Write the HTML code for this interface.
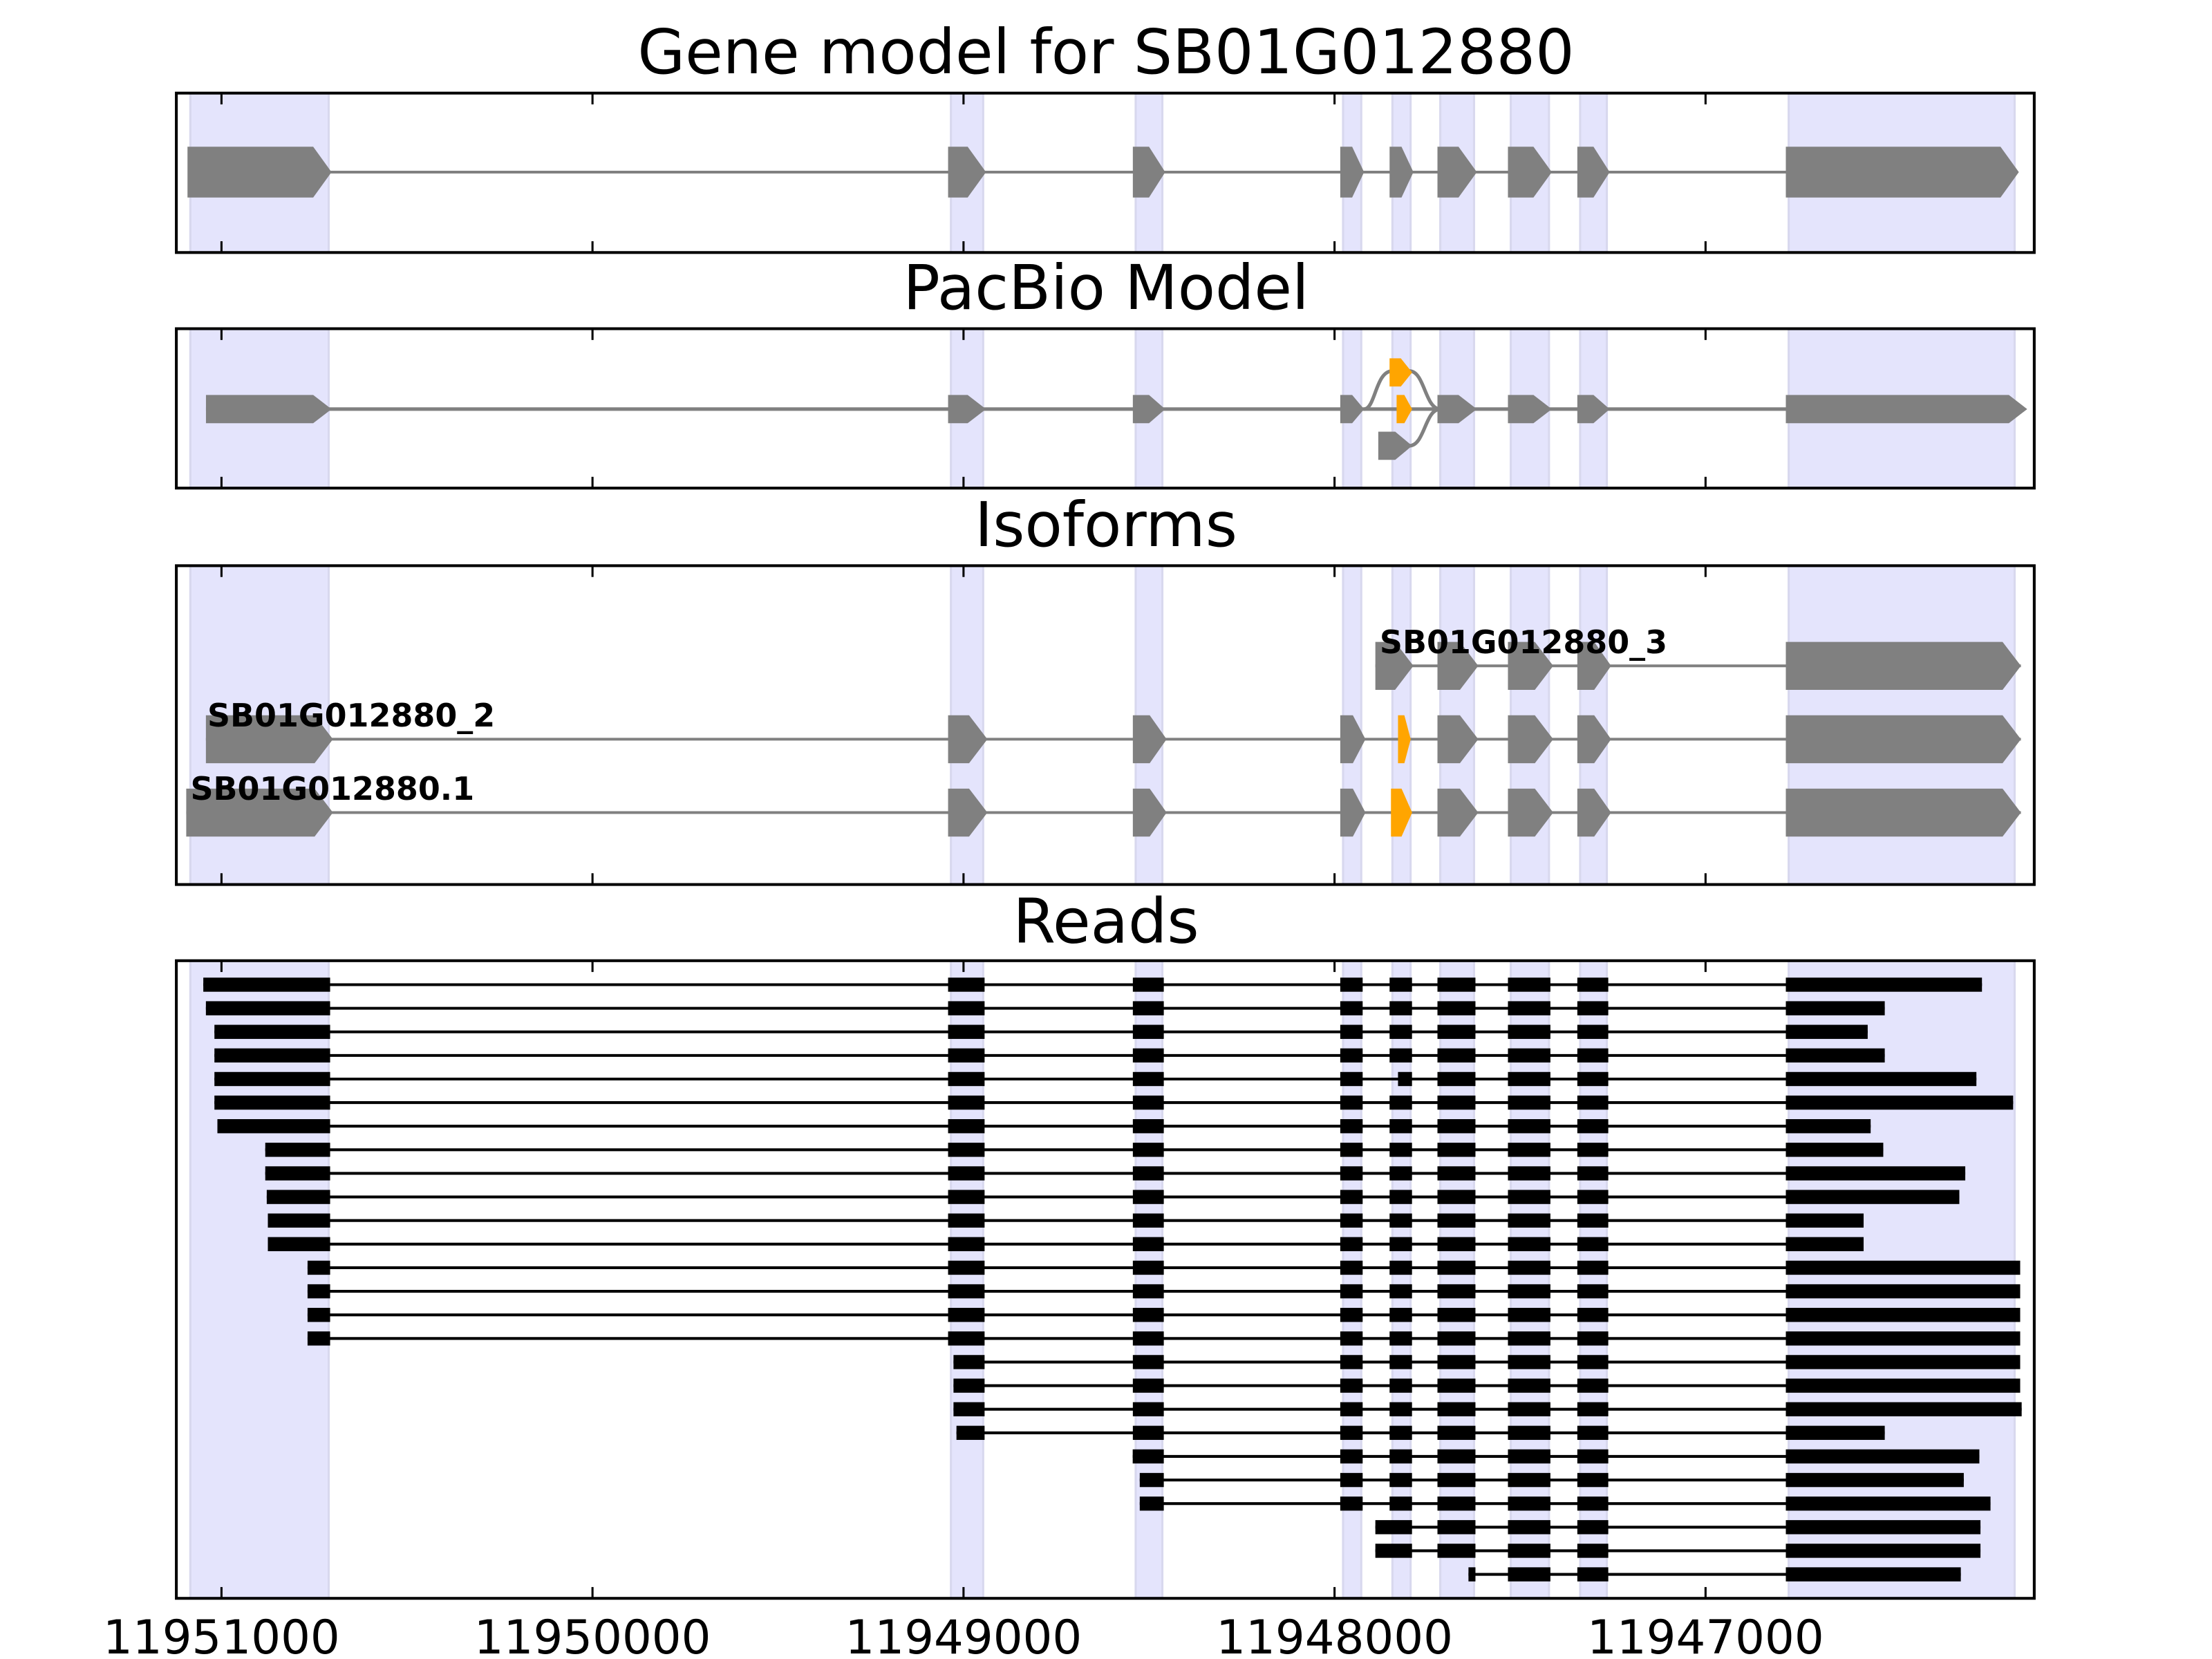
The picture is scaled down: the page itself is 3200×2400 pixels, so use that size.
<!DOCTYPE html>
<html><head><meta charset="utf-8">
<style>html,body{margin:0;padding:0;background:#fff}svg{display:block}</style></head>
<body>
<svg id="chart" xmlns="http://www.w3.org/2000/svg" width="3200" height="2400" viewBox="0 0 1568 1176" font-family="'DejaVu Sans','Liberation Sans',sans-serif"></svg>
<script>
// ---- data ----
const tickValues = [11951000, 11950000, 11949000, 11948000, 11947000];
const tickLabels = ["11951000", "11950000", "11949000", "11948000", "11947000"];
const exonStarts = [11951084, 11949034, 11948536, 11947977, 11947844, 11947715, 11947525, 11947338, 11946776];
const exonEnds   = [11950711, 11948947, 11948464, 11947928, 11947795, 11947624, 11947422, 11947266, 11946167];
const readStarts = [11951049,11951042,11951019,11951019,11951019,11951019,11951011,11950882,11950882,11950878,11950875,11950875,11950768,11950768,11950768,11950768,11949027,11949027,11949027,11949019,11948544,11948525,11948525,11947890,11947890,11947639];
const readEnds   = [11946255,11946517,11946563,11946517,11946270,11946171,11946555,11946521,11946300,11946316,11946574,11946574,11946152,11946152,11946152,11946152,11946152,11946152,11946148,11946517,11946262,11946304,11946232,11946259,11946259,11946312];
const panelTitles = ["Gene model for SB01G012880", "PacBio Model", "Isoforms", "Reads"];
const isoLabels = ["SB01G012880_3", "SB01G012880_2", "SB01G012880.1"];
const isoStarts = [11947890, 11951042, 11951095];
const isoEnds = [11946150, 11946150, 11946150];

// ---- helpers ----
const svg = document.getElementById('chart');
const NS = 'http://www.w3.org/2000/svg';
const X0 = 125, X1 = 1442;
function xs(p){ return 157 + (11951000 - p) * 0.263; }
function mk(tag, attrs, parent){ const e = document.createElementNS(NS, tag); for (const k in attrs) e.setAttribute(k, attrs[k]); (parent||svg).appendChild(e); return e; }
const panels = [[66,179],[233,346],[401,627],[681,1133]];
const titleY = [52,219,387,668];

function exonShape(x1, x2, yc, h, color, parent){
  let tip = Math.min(13, (x2 - x1) * 0.5);
  const pts = [[x1,yc-h/2],[x2-tip,yc-h/2],[x2,yc],[x2-tip,yc+h/2],[x1,yc+h/2]].map(p=>p.join(',')).join(' ');
  const e = mk('polygon', {points: pts, fill: color}, parent);
  
  
  return e;
}
// start x of block for exon k given read start s (read may start inside preceding intron)
function blockStart(k, s){
  const es = xs(exonStarts[k]) - 2;
  if (k > 0 && s < es && s > xs(exonEnds[k-1]) + 1) return s;
  return Math.max(es, s);
}

panels.forEach((pn, i) => {
  const g = mk('g', {});
  
  
  for (let k = 0; k < exonStarts.length; k++) {
    const a = xs(exonStarts[k]), b = xs(exonEnds[k]);
    const r = mk('rect', {x: a, y: pn[0], width: b - a, height: pn[1] - pn[0], fill: '#e4e4fc', stroke: '#d8d8ee', 'stroke-width': 1.5}, g);
    
    
  }
  const t = mk('text', {x: 784, y: titleY[i], 'text-anchor': 'middle', 'font-size': 43.5, fill: '#000'}, svg);
  t.textContent = panelTitles[i];
  
  
  pn.g = g;
});

// panel 1: gene model
(function(){
  const g = panels[0].g, yc = 122;
  mk('line', {x1: xs(exonStarts[0]), x2: xs(exonEnds[8]), y1: yc, y2: yc, stroke: '#808080', 'stroke-width': 2}, g);
  for (let k = 0; k < exonStarts.length; k++) {
    const a = xs(exonStarts[k]) - 2;
    const b = k==8 ? xs(exonEnds[k]) + 3 : xs(exonEnds[k]) + 2;
    exonShape(a, b, yc, 36, '#808080', g);
  }
})();

// panel 2: pacbio
(function(){
  const g = panels[1].g, yc = 290, h = 20;
  mk('line', {x1: 146, x2: xs(exonEnds[8]), y1: yc, y2: yc, stroke: '#808080', 'stroke-width': 2.5}, g);
  const e4a = xs(exonEnds[3]);
  mk('path', {d: `M${e4a+2},${yc} C975,${yc} 975,263 987,263 M999,263 C1010,263 1010,${yc} 1021,${yc} M999,316 C1010,316 1010,${yc} 1021,${yc}`, fill: 'none', stroke: '#808080', 'stroke-width': 2.5}, g);
  for (let k = 0; k < exonStarts.length; k++) {
    if (k == 4) continue;
    const a = k==0 ? 146 : xs(exonStarts[k]) - 2;
    const b = k==8 ? 1437 : xs(exonEnds[k]) + 2;
    exonShape(a, b, yc, h, '#808080', g);
  }
  exonShape(985, 1001, 264, h, '#ffa500', g);
  exonShape(990, 1001, yc, h, '#ffa500', g);
  exonShape(977, 1001, 316, h, '#808080', g);
})();

// panel 3: isoforms
(function(){
  const g = panels[2].g, rows = [472, 524, 576], h = 34;
  rows.forEach((yc, r) => {
    const s = xs(isoStarts[r]), en = xs(isoEnds[r]);
    mk('line', {x1: s, x2: en, y1: yc, y2: yc, stroke: '#808080', 'stroke-width': 2}, g);
    for (let k = 0; k < exonStarts.length; k++) {
      if (xs(exonEnds[k]) <= s) continue;
      let a = blockStart(k, s), b = xs(exonEnds[k]) + 3, col = '#808080';
      if (k == 0) a = s;
      if (k == 8) b = en;
      if (k == 4) {
        if (r == 0) { b = xs(exonEnds[k]) + 2; }
        else {
          col = '#ffa500';
          if (r == 1) { a = 991; b = 1000; } else { a = 986; b = 1001; }
        }
      }
      exonShape(a, b, yc, h, col, g);
    }
    const lx = r == 0 ? 978 : (r == 1 ? 147 : 135);
    const lt = mk('text', {x: lx, y: yc - 9, 'font-size': 22.5, 'font-weight': 'bold', fill: '#000'}, g);
    lt.textContent = isoLabels[r];
    
    
  });
})();

// panel 4: reads
(function(){
  const g = panels[3].g;
  for (let r = 0; r < readStarts.length; r++) {
    const yc = 698 + r * 16.72;
    const s = xs(readStarts[r]), en = xs(readEnds[r]);
    const row = mk('g', {}, g);
    
    
    mk('line', {x1: s, x2: en, y1: yc, y2: yc, stroke: '#000', 'stroke-width': 2}, row);
    for (let k = 0; k < exonStarts.length; k++) {
      if (xs(exonEnds[k]) + 1 <= s) continue;
      let a = blockStart(k, s), b = k == 8 ? en : Math.min(xs(exonEnds[k]) + 1, en);
      if (b <= a) continue;
      if (k == 4 && r == 4) a = 991;
      mk('rect', {x: a, y: yc - 5, width: b - a, height: 10, fill: '#000'}, row);
    }
  }
})();

// frames and ticks
panels.forEach((pn, i) => {
  const f = mk('rect', {x: X0, y: pn[0], width: X1 - X0, height: pn[1] - pn[0], fill: 'none', stroke: '#000', 'stroke-width': 2});
  
  
  tickValues.forEach(v => {
    const x = xs(v);
    mk('line', {x1: x, x2: x, y1: pn[0], y2: pn[0] + 8, stroke: '#000', 'stroke-width': 1.5});
    mk('line', {x1: x, x2: x, y1: pn[1], y2: pn[1] - 8, stroke: '#000', 'stroke-width': 1.5});
  });
});
tickValues.forEach((v, i) => {
  const t = mk('text', {x: xs(v), y: 1172, 'text-anchor': 'middle', 'font-size': 33, fill: '#000'});
  t.textContent = tickLabels[i];
  
  
});
</script>
</body></html>
